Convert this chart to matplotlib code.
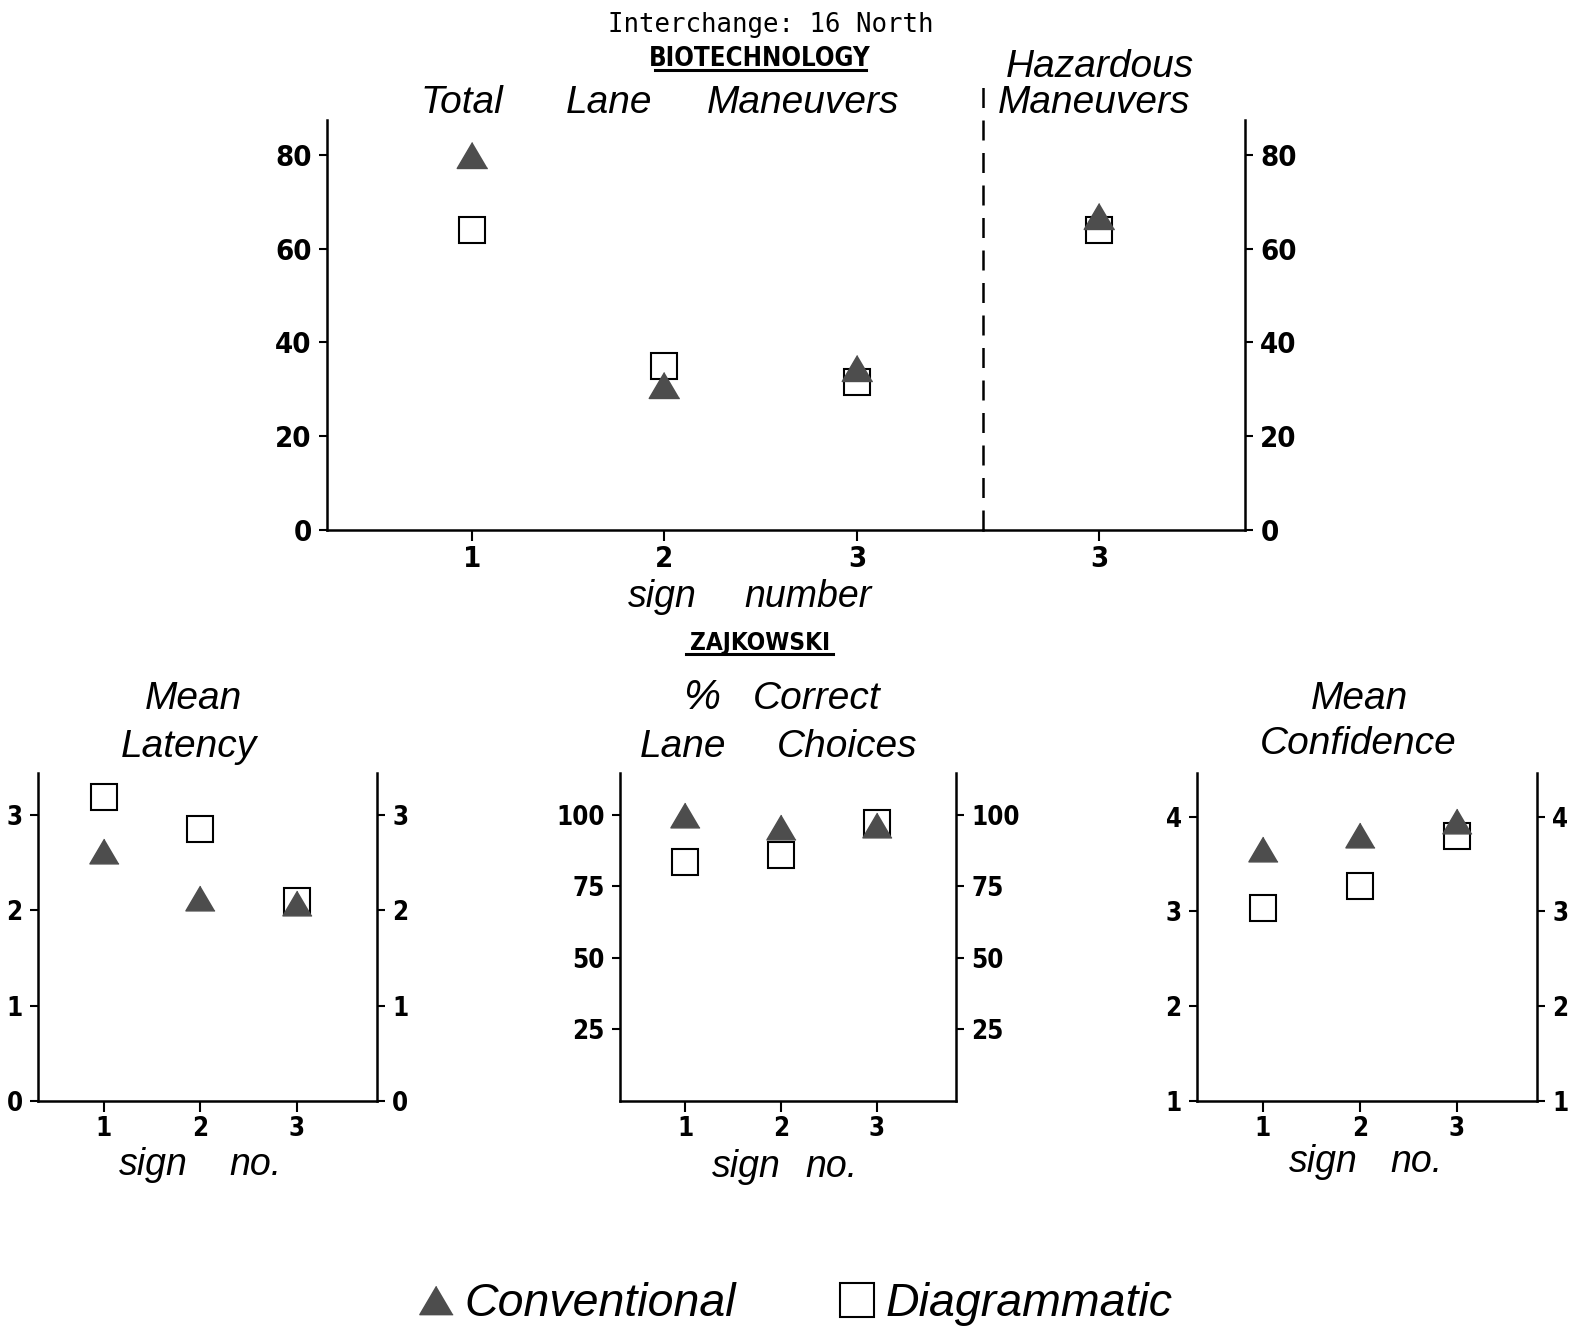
import matplotlib
matplotlib.use('Agg')
import matplotlib.pyplot as plt
from matplotlib.lines import Line2D

# sign numbers (categories)
signs = [1, 2, 3]

# Biotechnology: total lane maneuvers (%)
total_conv = [80, 31, 34.5]
total_diag = [64, 35, 31.5]

# Biotechnology: hazardous maneuvers (%), sign 3 only
haz_signs = [3]
haz_conv = [67]
haz_diag = [64]

# Zajkowski
latency_conv = [2.62, 2.13, 2.08]
latency_diag = [3.19, 2.85, 2.10]
correct_conv = [100, 95.5, 96.5]
correct_diag = [83.5, 86, 97]
conf_conv = [3.66, 3.81, 3.95]
conf_diag = [3.04, 3.27, 3.80]

W, H = 1570, 1331
TRI_COLOR = '#4d4d4d'
tri = [(0, 0.85), (-1, -0.85), (1, -0.85)]
NARROW = ['DejaVu Sans']
ITAL = ['Liberation Sans', 'DejaVu Sans']

fig = plt.figure(figsize=(W / 100, H / 100), dpi=100)


def fx(px):
    return px / W


def fy(py):
    return 1 - py / H


def txt(px, py, s, size=28, style='italic', family=ITAL, weight='normal', stretch='normal'):
    fig.text(fx(px), fy(py), s, ha='center', va='baseline', fontsize=size,
             style=style, family=family, weight=weight, fontstretch=stretch)


def underline(x0, x1, py):
    fig.add_artist(Line2D([fx(x0), fx(x1)], [fy(py), fy(py)], color='black', lw=2.2))


def style_axes(ax, left=True, right=False, labelsize=18.5):
    ax.spines['top'].set_visible(False)
    ax.spines['left'].set_visible(left)
    ax.spines['right'].set_visible(right)
    for s in ax.spines.values():
        s.set_linewidth(1.8)
    ax.tick_params(axis='y', direction='out', length=6, width=1.5, pad=5,
                   left=left, labelleft=left, right=right, labelright=right,
                   labelsize=labelsize)
    ax.tick_params(axis='x', direction='out', length=8, width=1.5, pad=3,
                   labelsize=labelsize)
    for lab in ax.get_xticklabels() + ax.get_yticklabels():
        lab.set_family(NARROW)
        lab.set_weight('bold')
        lab.set_fontstretch('condensed')
    ax.patch.set_alpha(0)


def plot_pair(ax, x, conv, diag, ms_sq=18.5, ms_tri=21):
    ax.plot(x, diag, linestyle='none', marker='s', ms=ms_sq, mfc='white',
            mec='black', mew=1.5, zorder=3, clip_on=False)
    ax.plot(x, conv, linestyle='none', marker=tri, ms=ms_tri, mfc=TRI_COLOR,
            mec=TRI_COLOR, mew=1, zorder=4, clip_on=False)


# ---- top panel: total lane maneuvers ----
bot, top = fy(530), fy(120)
ax_t = fig.add_axes([fx(327), bot, fx(983) - fx(327), top - bot])
ax_t.set_xlim(0.247, 3.655)
ax_t.set_ylim(0, 87.4)
ax_t.set_xticks(signs)
ax_t.set_yticks([0, 20, 40, 60, 80])
plot_pair(ax_t, signs, total_conv, total_diag, ms_sq=19, ms_tri=22)
style_axes(ax_t, left=True, right=False, labelsize=21)

ax_h = fig.add_axes([fx(983), bot, fx(1245) - fx(983), top - bot])
ax_h.set_xlim(2.397, 3.758)
ax_h.set_ylim(0, 87.4)
ax_h.set_xticks(haz_signs)
ax_h.set_yticks([0, 20, 40, 60, 80])
plot_pair(ax_h, haz_signs, haz_conv, haz_diag, ms_sq=19, ms_tri=22)
style_axes(ax_h, left=False, right=True, labelsize=21)
ax_h.axvline(ax_h.get_xlim()[0], ymin=0, ymax=1.1, color='black', lw=1.8,
             linestyle=(0, (8, 5)), clip_on=False)

# ---- bottom panels ----
b_bot, b_top = fy(1101), fy(773)
panels = [
    (38, 377, latency_conv, latency_diag, (0, 3.44), [0, 1, 2, 3]),
    (620, 956, correct_conv, correct_diag, (0, 114.5), [25, 50, 75, 100]),
    (1197, 1537, conf_conv, conf_diag, (1, 4.46), [1, 2, 3, 4]),
]
for x0, x1, conv, diag, ylim, yt in panels:
    ax = fig.add_axes([fx(x0), b_bot, fx(x1) - fx(x0), b_top - b_bot])
    ax.set_xlim(0.32, 3.83)
    ax.set_ylim(*ylim)
    ax.set_xticks(signs)
    ax.set_yticks(yt)
    plot_pair(ax, signs, conv, diag)
    style_axes(ax, left=True, right=True, labelsize=18.5)

# ---- text ----
txt(771, 32, 'Interchange: 16 North', size=18.5, style='normal',
    family=['DejaVu Sans Mono'])
txt(760, 66, 'BIOTECHNOLOGY', size=18.5, style='normal', family=NARROW,
    weight='bold', stretch='condensed')
underline(655, 866, 70)

txt(462, 113, 'Total')
txt(609, 113, 'Lane')
txt(803, 113, 'Maneuvers')
txt(1100, 77, 'Hazardous')
txt(1094, 113, 'Maneuvers')
txt(662, 607, 'sign', size=27)
txt(808, 607, 'number', size=27)

txt(760, 650, 'ZAJKOWSKI', size=17.5, style='normal', family=NARROW,
    weight='bold', stretch='condensed')
underline(686, 833, 654)

txt(193, 709, 'Mean')
txt(189, 757, 'Latency')
txt(702, 709, '%', size=30)
txt(817, 709, 'Correct')
txt(683, 757, 'Lane')
txt(847, 757, 'Choices')
txt(1359, 709, 'Mean')
txt(1358, 754, 'Confidence')

txt(153, 1175, 'sign', size=27)
txt(255, 1175, 'no.', size=27)
txt(746, 1177, 'sign', size=27)
txt(831, 1177, 'no.', size=27)
txt(1323, 1172, 'sign', size=27)
txt(1416, 1172, 'no.', size=27)

# ---- legend ----
handles = [
    Line2D([], [], linestyle='none', marker=tri, ms=24, mfc=TRI_COLOR, mec=TRI_COLOR),
    Line2D([], [], linestyle='none', marker='s', ms=24, mfc='white', mec='black', mew=1.5),
]
fig.legend(handles, ['Conventional', 'Diagrammatic'], loc='center',
           bbox_to_anchor=(fx(795), fy(1304)), ncol=2, frameon=False,
           handlelength=0.8, handletextpad=0.22, columnspacing=2.2,
           prop={'family': ITAL, 'style': 'italic', 'size': 33.5})

fig.savefig('out.png', dpi=100)
